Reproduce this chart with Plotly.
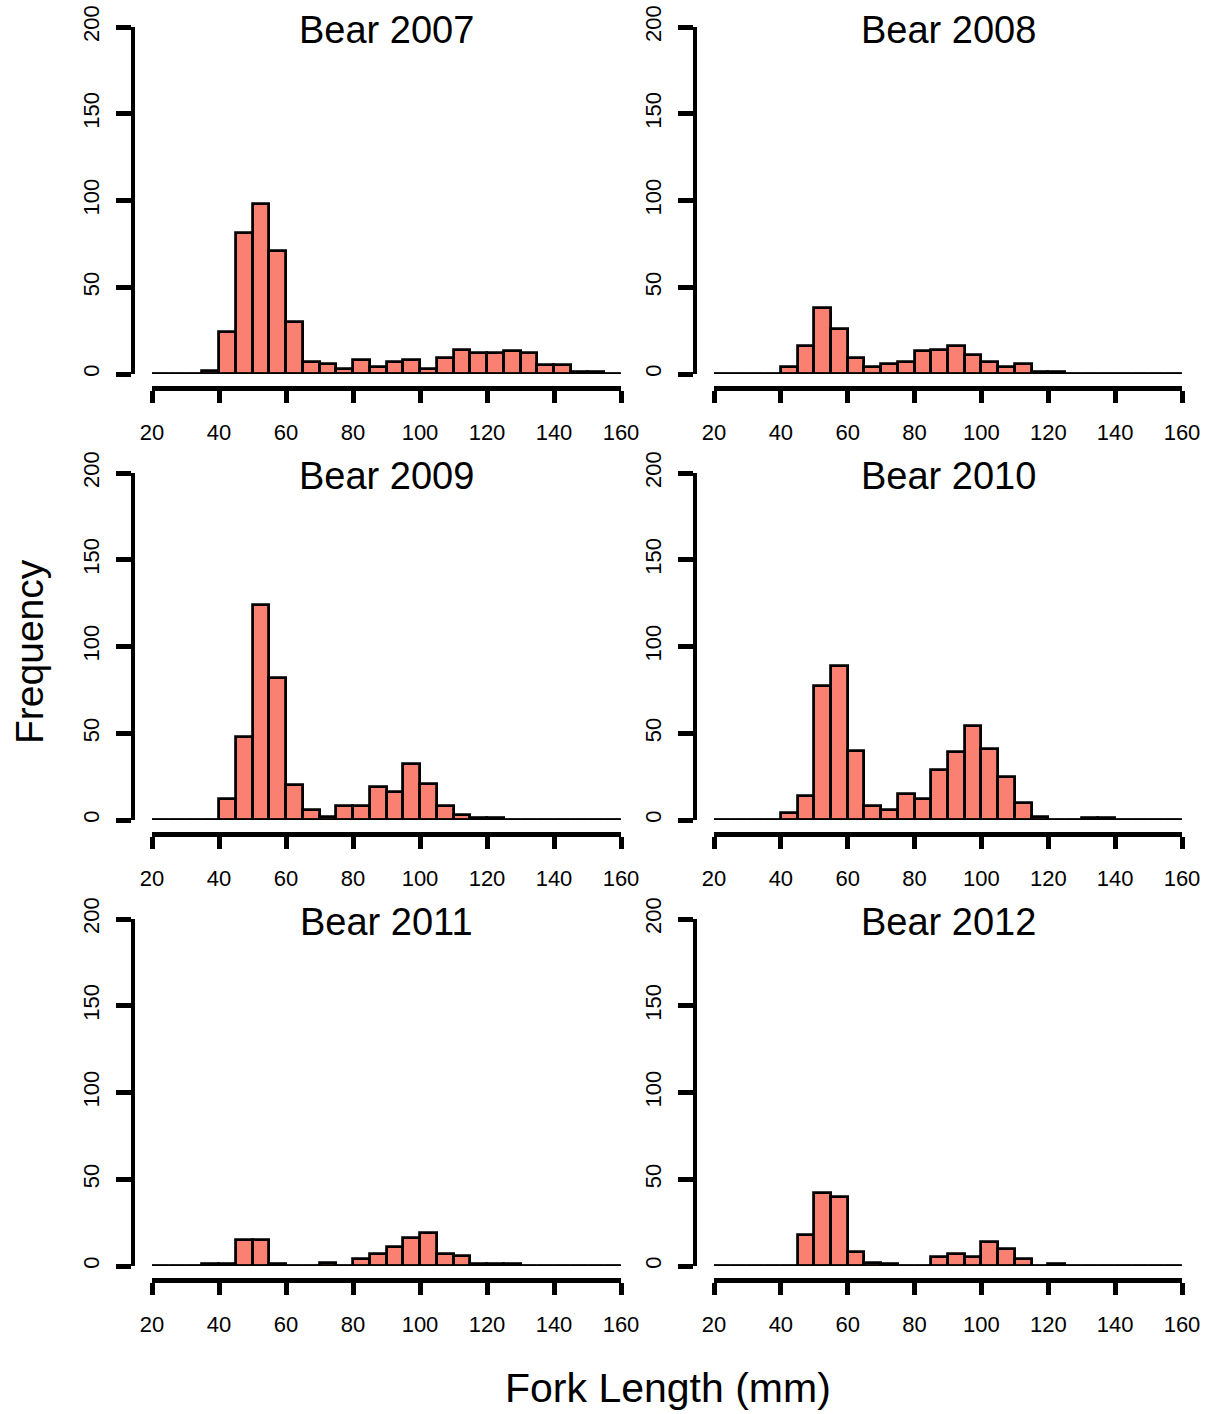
import plotly.graph_objects as go

# Fork length bins (mm): left edges, 5 mm wide, covering 20-160
BIN_WIDTH = 5
bin_left = list(range(20, 160, BIN_WIDTH))
x_ticks = [20, 40, 60, 80, 100, 120, 140, 160]
y_ticks = [0, 50, 100, 150, 200]

# Counts per bin for each year
counts_2007 = [0, 0, 0, 2, 24, 81, 98, 71, 30, 7, 6, 3, 8, 4, 7, 8, 3, 9, 14, 12, 12, 13, 12, 5, 5, 1, 1, 0]
counts_2008 = [0, 0, 0, 0, 4, 16, 38, 26, 9, 4, 6, 7, 13, 14, 16, 11, 7, 4, 6, 1, 1, 0, 0, 0, 0, 0, 0, 0]
counts_2009 = [0, 0, 0, 0, 12, 48, 124, 82, 20, 6, 2, 8, 8, 19, 16, 32, 21, 8, 3, 1, 1, 0, 0, 0, 0, 0, 0, 0]
counts_2010 = [0, 0, 0, 0, 4, 14, 77, 89, 40, 8, 6, 15, 12, 29, 39, 54, 41, 25, 10, 2, 0, 0, 1, 1, 0, 0, 0, 0]
counts_2011 = [0, 0, 0, 1, 1, 15, 15, 1, 0, 0, 2, 0, 4, 7, 11, 16, 19, 7, 6, 1, 1, 1, 0, 0, 0, 0, 0, 0]
counts_2012 = [0, 0, 0, 0, 0, 18, 42, 40, 8, 2, 1, 0, 0, 5, 7, 5, 14, 10, 4, 0, 1, 0, 0, 0, 0, 0, 0, 0]

panels = [
    ("Bear 2007", counts_2007),
    ("Bear 2008", counts_2008),
    ("Bear 2009", counts_2009),
    ("Bear 2010", counts_2010),
    ("Bear 2011", counts_2011),
    ("Bear 2012", counts_2012),
]

W, H = 1211, 1414
FONT = "Liberation Sans, Arial, sans-serif"
FILL = "#FA8072"


def fx(px):
    return px / W


def fy(py):
    return 1 - py / H


# pixel layout of the 3x2 grid
col_x0 = [152, 714]      # x = 20
col_x1 = [621, 1182]     # x = 160
col_yaxis = [133, 695]   # y-axis line
row_y0 = [374, 820, 1266]   # y = 0
row_y200 = [27, 473, 919]   # y = 200
row_xaxis = [388, 834, 1280]  # x-axis line

fig = go.Figure()
layout = {}
annotations = []
x_centers = [b + BIN_WIDTH / 2 for b in bin_left]
edges = [bin_left[0], bin_left[-1] + BIN_WIDTH]

for i, (title, counts) in enumerate(panels):
    r, c = divmod(i, 2)
    n = i + 1
    xa = "x" if n == 1 else f"x{n}"
    ya = "y" if n == 1 else f"y{n}"
    xkey = "xaxis" if n == 1 else f"xaxis{n}"
    ykey = "yaxis" if n == 1 else f"yaxis{n}"

    # zero-height bins show as a baseline across the full bin range
    fig.add_trace(go.Scatter(
        x=edges, y=[0, 0], mode="lines",
        line=dict(color="black", width=3),
        xaxis=xa, yaxis=ya, cliponaxis=False,
        showlegend=False, hoverinfo="skip",
    ))
    fig.add_trace(go.Bar(
        x=x_centers, y=counts, width=BIN_WIDTH,
        marker=dict(color=FILL, line=dict(color="black", width=2.8)),
        xaxis=xa, yaxis=ya, showlegend=False,
    ))

    layout[xkey] = dict(
        domain=[fx(col_x0[c]), fx(col_x1[c])],
        range=[20, 160], anchor="free", position=fy(row_xaxis[r]),
        automargin=False,
        tickmode="array", tickvals=x_ticks, ticktext=[str(t) for t in x_ticks],
        ticks="outside", ticklen=12, tickwidth=4.5, tickcolor="black",
        showline=True, linewidth=4.5, linecolor="black",
        showgrid=False, zeroline=False,
        tickfont=dict(family=FONT, size=22, color="black"),
        ticklabelstandoff=11,
    )
    layout[ykey] = dict(
        domain=[fy(row_y0[r]), fy(row_y200[r])],
        range=[0, 200], anchor="free", position=fx(col_yaxis[c]),
        automargin=False,
        tickmode="array", tickvals=y_ticks, ticktext=[str(t) for t in y_ticks],
        ticks="outside", ticklen=15, tickwidth=4.5, tickcolor="black",
        showline=True, linewidth=4, linecolor="black",
        showgrid=False, zeroline=False, tickangle=-90,
        tickfont=dict(family=FONT, size=22, color="black"),
        ticklabelstandoff=8,
    )
    annotations.append(dict(
        text=title, xref="paper", yref="paper",
        x=fx((col_x0[c] + col_x1[c]) / 2), y=fy(row_y200[r] + 3),
        xanchor="center", yanchor="middle", showarrow=False,
        font=dict(family=FONT, size=38, color="black"),
    ))

annotations.append(dict(
    text="Fork Length (mm)", xref="paper", yref="paper",
    x=fx(668), y=fy(1388), xanchor="center", yanchor="middle",
    showarrow=False, font=dict(family=FONT, size=41, color="black"),
))
annotations.append(dict(
    text="Frequency", xref="paper", yref="paper",
    x=fx(30), y=fy(652), xanchor="center", yanchor="middle",
    showarrow=False, textangle=-90,
    font=dict(family=FONT, size=39, color="black"),
))

fig.update_layout(
    width=W, height=H,
    margin=dict(l=0, r=0, t=0, b=0),
    paper_bgcolor="white", plot_bgcolor="white",
    bargap=0, annotations=annotations,
    **layout,
)

fig.write_html("out.html")
